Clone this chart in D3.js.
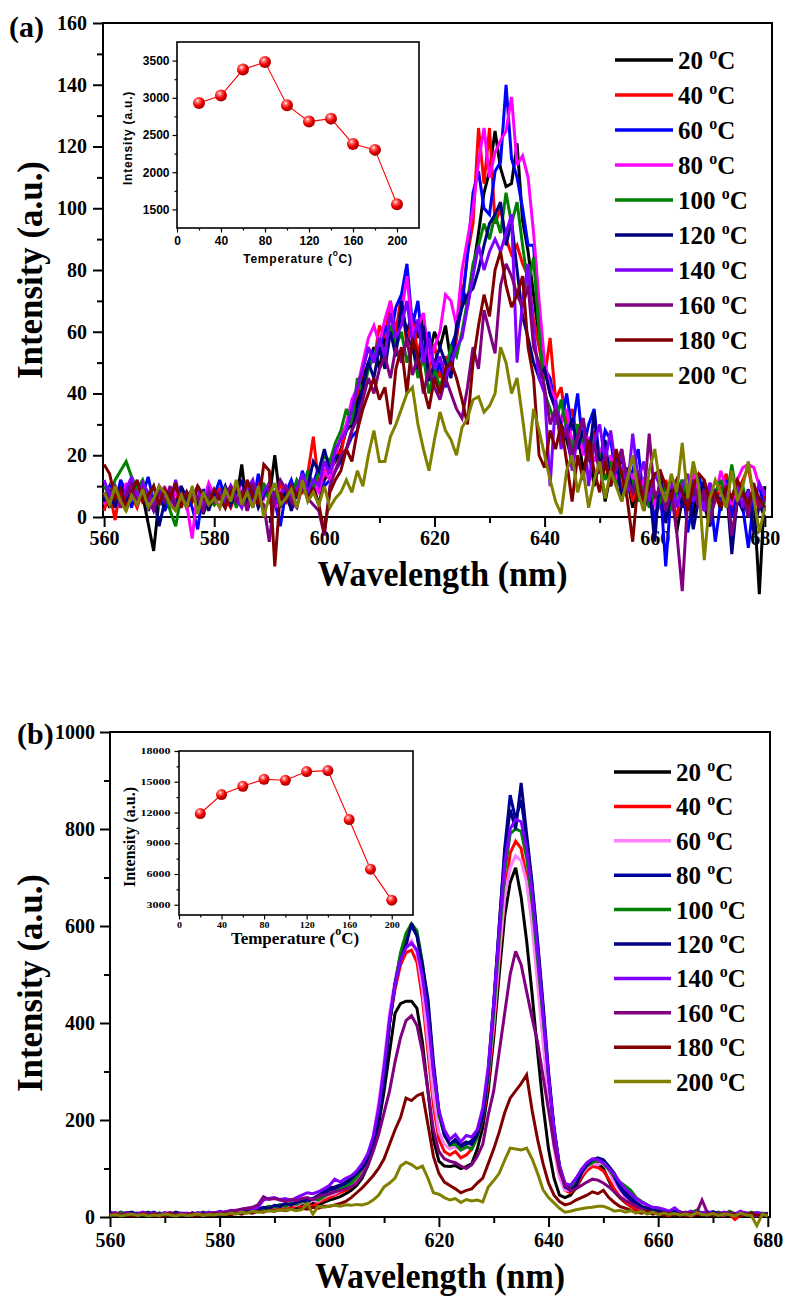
<!DOCTYPE html>
<html><head><meta charset="utf-8">
<script src="https://cdn.jsdelivr.net/npm/d3@7"></script>
<style>body{margin:0;background:#fff}</style>
</head><body><svg id="c" width="787" height="1300"></svg>
<script>
// ---------------- DATA ----------------
const wavelengths = [560,561,562,563,564,565,566,567,568,569,570,571,572,573,574,575,576,577,578,579,580,
581,582,583,584,585,586,587,588,589,590,591,592,593,594,595,596,597,598,599,600,
601,602,603,604,605,606,607,608,609,610,611,612,613,614,615,616,617,618,619,620,
621,622,623,624,625,626,627,628,629,630,631,632,633,634,635,636,637,638,639,640,
641,642,643,644,645,646,647,648,649,650,651,652,653,654,655,656,657,658,659,660,
661,662,663,664,665,666,667,668,669,670,671,672,673,674,675,676,677,678,679,680];

const temps = ["20","40","60","80","100","120","140","160","180","200"];
const colorsA = ["#000000","#ff0000","#0000ff","#ff00ff","#008000","#000080","#8000ff","#800080","#800000","#808000"];
const colorsB = ["#000000","#ff0000","#ff80ff","#00009c","#008000","#000080","#8000ff","#800080","#800000","#808000"];

// panel (a) spectra
const a20 = [8,3,10,6,2,9,5,7,-2,-11,6,4,9,2,7,3,5,8,1,6,4,
 7,3,9,5,17,2,8,4,10,6,20,5,9,3,8,12,6,10,4,12,
 15,18,22,28,30,38,45,50,55,48,58,62,55,68,60,66,58,64,52,60,
 55,62,50,58,75,68,80,92,105,112,125,113,107,108,121,96,86,72,58,48,
 40,35,30,25,18,28,15,22,10,18,5,14,20,8,12,3,15,6,10,-2,
 8,2,12,-5,6,10,0,14,4,-3,9,2,11,-6,5,8,0,6,-25,10];
const a40 = [2,8,-1,10,5,7,3,9,6,4,8,2,7,5,10,3,6,9,4,7,5,
 9,6,3,8,5,10,4,12,7,9,5,11,6,3,10,8,14,26,10,14,
 18,22,20,30,35,40,48,55,50,62,58,70,60,72,55,66,52,62,48,56,
 45,52,48,58,70,85,95,126,108,126,95,100,90,85,88,82,78,64,55,45,
 58,38,42,30,35,25,32,20,28,15,22,12,18,8,15,5,12,2,10,6,
 3,12,6,0,10,4,14,8,2,11,5,9,14,3,8,12,16,6,3,8];
const a60 = [6,10,4,12,8,3,11,7,13,5,9,2,6,10,4,8,3,-4,9,5,7,
 12,6,9,4,8,11,3,14,7,10,5,-3,8,12,6,15,9,11,16,10,
 12,15,18,22,26,28,40,50,54,53,62,58,68,72,82,62,70,52,60,45,
 50,42,55,60,68,85,105,112,100,98,112,115,140,116,110,100,88,88,60,48,
 45,35,30,40,28,40,22,30,35,18,28,25,12,20,8,15,22,5,12,-2,
 10,-16,8,4,12,-5,6,14,2,9,-8,5,12,0,8,3,-10,6,10,2];
const a80 = [4,9,7,3,11,6,8,12,2,7,5,10,3,8,6,4,-7,9,5,11,7,
 3,8,10,5,12,7,4,9,6,11,3,8,5,10,7,9,13,11,8,15,
 12,20,26,30,38,42,50,58,62,56,64,70,55,66,78,60,62,66,50,55,
 60,72,70,62,80,90,100,115,126,110,118,122,125,136,114,117,110,92,70,50,
 42,38,30,35,24,30,20,26,18,22,15,20,12,16,9,14,6,12,8,4,
 10,5,12,7,3,10,14,8,2,11,6,15,9,4,12,16,17,16,10,8];
const a100 = [10,7,12,15,18,13,9,12,6,10,4,8,2,-3,7,5,9,3,8,6,4,
 7,5,10,3,8,6,9,4,11,5,8,3,10,6,12,9,15,10,14,20,
 18,24,28,35,30,45,40,48,52,58,50,62,55,60,50,56,45,52,40,48,
 42,48,55,52,60,70,82,88,95,90,98,92,105,95,102,88,75,84,60,40,
 35,30,38,28,22,30,25,18,26,20,12,18,10,15,8,12,5,10,3,8,
 5,10,2,8,12,4,9,6,11,3,8,12,5,17,6,10,2,8,5,4];
const a120 = [5,8,3,10,6,12,4,9,2,7,-3,5,8,3,10,6,9,4,7,2,8,
 6,10,4,8,12,5,9,3,7,11,6,4,9,2,8,12,10,18,15,22,
 15,20,18,22,28,35,42,50,45,55,48,60,52,70,58,55,48,62,44,50,
 55,50,45,62,68,72,74,80,88,95,98,102,88,96,80,65,58,50,45,48,
 40,35,30,26,32,22,28,18,34,15,25,10,20,5,16,8,12,2,10,-8,
 15,-2,8,12,3,10,-4,6,12,-3,8,5,10,-12,6,2,9,-5,4,0];
const a140 = [12,7,10,4,9,13,6,11,8,3,10,7,5,12,4,8,6,10,3,9,5,
 8,4,10,6,3,9,12,5,8,11,4,7,10,6,9,14,8,12,10,18,
 14,22,25,28,35,42,48,55,50,58,52,66,58,62,70,56,64,50,58,48,
 52,45,50,55,58,68,78,88,80,86,90,86,92,98,50,70,82,60,45,40,
 10,38,22,30,15,26,32,10,24,30,18,28,15,22,8,27,12,18,5,14,
 10,6,12,3,10,14,5,9,2,11,7,4,10,6,12,3,8,5,11,7];
const a160 = [8,5,10,3,7,11,4,9,6,2,8,5,10,3,7,4,9,6,2,8,5,
 7,3,10,5,8,2,11,6,4,-8,7,12,9,5,3,10,6,4,2,-6,
 10,15,20,22,28,32,38,45,40,48,52,45,55,50,58,46,52,40,48,42,
 38,45,40,35,32,42,55,48,67,60,53,75,82,78,72,68,75,55,50,42,
 30,35,25,28,20,26,32,18,24,14,20,10,16,22,12,8,14,5,27,6,
 10,2,8,-5,-24,6,12,3,9,-2,7,4,10,-6,5,8,0,11,3,6];
const a180 = [17,14,6,9,3,8,12,5,7,10,4,9,6,11,3,8,5,10,7,4,9,
 6,3,8,10,5,12,7,4,17,15,-16,8,5,10,7,11,6,9,4,-5,
 8,12,15,22,18,28,35,40,45,38,42,30,48,55,40,58,52,42,35,45,
 40,48,50,45,38,30,50,62,72,65,80,86,75,68,72,78,55,45,20,16,
 28,22,30,18,5,20,12,25,15,8,18,10,22,14,6,-8,12,5,10,14,
 15,10,6,12,8,2,10,14,12,5,8,3,10,6,12,8,4,10,6,3];
const a200 = [8,4,10,5,2,7,4,9,3,6,10,8,4,2,7,3,10,1,8,4,6,
 3,9,5,12,4,8,3,10,0,7,11,4,6,9,3,12,5,8,4,10,
 3,6,8,12,8,15,10,20,28,18,18,26,30,35,40,42,30,22,15,25,
 34,28,25,20,29,32,38,39,34,36,40,55,50,40,45,32,18,35,28,20,
 12,5,1,15,20,8,15,3,12,18,6,15,10,5,12,20,8,2,15,22,
 10,5,14,8,24,6,18,10,-14,6,12,8,3,15,5,10,18,6,-5,3];

// panel (b) spectra
const b20 = [8,5,10,6,4,7,3,6,5,8,4,6,7,3,5,8,4,6,5,7,6,
 8,6,10,9,12,10,14,12,15,14,18,16,20,18,24,22,28,25,30,35,
 38,42,48,55,65,80,105,140,190,260,340,420,440,445,445,430,360,260,160,115,
 105,104,106,100,104,110,140,185,260,370,500,620,690,720,660,570,460,340,230,140,
 80,45,40,45,60,80,98,108,110,100,75,52,40,30,22,18,14,12,10,8,
 7,9,6,8,5,10,7,6,9,5,8,6,4,7,5,6,8,5,7,6];
const b40 = [5,8,4,6,9,3,7,5,8,2,6,9,4,7,5,3,8,6,4,9,5,
 7,10,8,12,9,14,11,16,13,18,15,20,17,24,20,26,22,30,35,40,
 45,50,55,62,75,90,115,155,220,300,400,470,520,545,550,525,450,340,230,160,
 135,128,135,122,128,140,165,200,275,390,530,660,750,775,760,700,610,500,380,260,
 150,85,55,50,62,82,96,104,102,95,78,58,42,30,22,15,12,8,10,6,
 5,3,8,4,7,2,6,9,4,7,5,3,6,-5,4,8,5,3,6,4];
const b60 = [6,4,8,5,7,3,9,6,4,7,5,8,3,6,9,5,7,4,8,6,10,
 8,12,10,14,11,16,13,18,22,20,24,22,26,24,30,28,35,32,40,45,
 48,55,60,68,80,95,125,165,235,320,420,490,540,560,570,545,470,360,250,175,
 150,140,145,138,142,150,170,210,290,400,540,660,720,745,735,690,600,480,360,240,
 140,80,55,55,68,88,102,110,108,112,95,72,55,40,30,22,16,12,10,8,
 6,9,5,8,4,7,10,6,8,5,7,4,9,6,5,8,4,7,5,6];
const b80 = [10,7,5,9,6,8,4,7,10,5,8,6,9,4,7,5,8,6,9,7,5,
 10,8,12,14,11,16,18,15,20,22,25,24,28,30,32,35,38,42,48,55,
 58,62,68,75,88,105,125,155,210,290,400,480,540,575,600,580,515,440,310,215,
 168,150,155,145,150,158,175,210,300,440,600,760,870,820,860,780,680,560,430,290,
 180,100,62,55,72,92,110,118,120,115,100,82,60,45,35,25,18,15,12,10,
 8,6,10,7,5,9,6,8,4,7,10,5,8,6,4,7,9,5,6,8];
const b100 = [7,5,9,6,8,4,7,10,5,8,6,4,9,7,5,8,6,10,7,5,8,
 10,12,9,14,12,16,14,18,22,20,25,22,28,26,32,30,38,35,42,48,
 52,58,62,70,82,98,120,150,215,300,400,480,545,585,605,590,525,430,300,210,
 170,148,150,138,145,140,165,205,290,420,570,710,790,800,795,740,650,530,410,290,
 180,105,65,60,75,92,105,112,118,110,98,85,72,64,55,40,32,25,18,15,
 12,10,8,11,6,9,14,8,10,6,9,5,12,7,8,5,10,6,8,5];
const b120 = [9,6,4,8,10,5,7,9,4,6,8,5,10,7,4,8,6,9,5,7,10,
 8,12,10,15,13,18,16,20,18,24,22,28,25,30,34,32,38,45,52,60,
 62,66,72,80,90,100,118,150,200,280,400,480,530,560,605,580,520,450,320,220,
 170,150,160,148,155,150,170,205,300,440,600,750,840,800,895,790,690,570,440,300,
 185,105,68,55,65,90,108,118,122,118,105,90,68,52,40,30,22,18,14,12,
 10,8,12,6,9,7,10,5,8,11,6,9,7,5,10,8,6,9,7,5];
const b140 = [6,9,5,8,4,7,10,6,8,5,9,6,4,8,7,5,9,6,10,8,12,
 10,14,12,16,18,15,20,35,38,40,36,38,34,40,45,50,48,52,58,65,
 78,72,80,85,95,110,130,165,225,310,410,480,530,555,565,550,495,410,300,220,
 180,160,170,155,168,165,180,225,310,440,590,730,800,820,815,760,670,550,420,290,
 180,105,70,65,80,98,112,120,118,112,100,88,72,58,48,38,30,25,20,19,
 16,12,19,10,8,12,6,9,11,7,5,10,8,6,12,7,5,9,6,4];
const b160 = [5,8,4,7,6,3,8,5,7,4,6,9,5,7,4,8,6,5,7,9,8,
 10,12,14,16,18,20,25,42,36,38,35,32,36,34,38,40,36,42,45,48,
 52,55,58,62,70,85,105,135,170,215,260,320,370,405,415,395,340,260,180,135,
 120,115,112,105,100,108,125,150,210,260,340,420,500,548,520,465,410,360,290,220,
 150,95,65,55,58,65,72,78,76,70,62,52,42,34,28,22,16,12,10,8,
 6,9,5,7,10,6,8,35,8,5,7,4,9,6,3,8,5,2,6,4];
const b180 = [4,6,3,5,2,4,6,3,5,4,2,6,3,5,4,6,3,5,4,6,5,
 6,4,8,6,10,8,12,10,14,12,15,13,16,14,18,16,20,18,22,22,
 25,28,32,40,50,60,72,85,100,120,150,180,205,245,240,250,255,190,125,90,
 72,65,58,50,55,58,70,80,110,140,175,215,245,260,275,293,220,160,110,70,
 45,32,25,28,35,40,45,52,48,55,40,30,22,18,14,10,8,12,6,8,
 5,7,4,6,3,8,5,4,6,3,5,7,4,6,2,5,8,4,3,5];
const b200 = [3,5,2,4,6,3,5,2,4,3,6,4,2,5,3,4,6,3,5,4,6,
 5,8,6,10,8,12,10,11,13,12,15,14,16,13,15,28,6,22,20,22,
 24,22,25,24,26,25,28,35,45,62,70,80,105,113,108,100,105,80,50,47,
 40,35,38,30,36,33,35,31,62,75,90,117,142,140,138,142,120,90,56,40,
 29,18,10,12,15,17,19,20,22,22,18,12,14,10,13,8,12,6,10,5,
 8,5,7,4,6,3,9,5,4,7,3,6,5,2,8,4,3,-18,6,2];

const seriesA = [a20,a40,a60,a80,a100,a120,a140,a160,a180,a200];
const seriesB = [b20,b40,b60,b80,b100,b120,b140,b160,b180,b200];

// insets
const insetTemps = [20,40,60,80,100,120,140,160,180,200];
const insetA = [2930,3030,3380,3480,2900,2680,2720,2380,2300,1570];
const insetB = [11900,13750,14560,15240,15140,15990,16090,11310,6470,3450];

// ticks
const xTicks = [560,580,600,620,640,660,680];
const xMinor = [570,590,610,630,650,670];
const yTicksA = [0,20,40,60,80,100,120,140,160];
const yMinorA = [10,30,50,70,90,110,130,150];
const yTicksB = [0,200,400,600,800,1000];
const yMinorB = [100,300,500,700,900];
const insetXTicks = [0,40,80,120,160,200];
const insetXMinor = [20,60,100,140,180];
const insetYTicksA = [1500,2000,2500,3000,3500];
const insetYMinorA = [1750,2250,2750,3250];
const insetYTicksB = [3000,6000,9000,12000,15000,18000];
const insetYMinorB = [4500,7500,10500,13500,16500];

// ---------------- DRAW ----------------
const SERIF = "'Liberation Serif','Times New Roman',serif";
const SANS = "'Liberation Sans',Arial,sans-serif";
const svg = d3.select("#c");

const defs = svg.append("defs");
const grad = defs.append("radialGradient").attr("id","ball").attr("cx","38%").attr("cy","32%").attr("r","68%");
grad.append("stop").attr("offset","0%").attr("stop-color","#ffffff");
grad.append("stop").attr("offset","22%").attr("stop-color","#ff7070");
grad.append("stop").attr("offset","60%").attr("stop-color","#f00000");
grad.append("stop").attr("offset","100%").attr("stop-color","#a00000");

function styleAxis(g, font, size, weight, sw) {
  g.select(".domain").remove();
  g.selectAll(".tick line").attr("stroke","#000").attr("stroke-width",sw);
  g.selectAll(".tick text").attr("font-family",font).attr("font-size",size)
    .attr("font-weight",weight).attr("fill","#000");
}

function degText(sel, pre, size, supSize, raise, post) {
  sel.append("tspan").text(pre);
  sel.append("tspan").attr("font-size",supSize).attr("dy",-raise).text("o");
  sel.append("tspan").attr("dy",raise).text("C" + (post||""));
}

function mainPanel(o) {
  const x = d3.scaleLinear().domain(o.xDomain).range([o.left,o.right]);
  const y = d3.scaleLinear().domain(o.yDomain).range([o.bottom,o.top]);
  const g = svg.append("g");

  const gxm = g.append("g").attr("transform",`translate(0,${o.bottom})`)
    .call(d3.axisBottom(x).tickValues(xMinor).tickSize(6).tickFormat(""));
  styleAxis(gxm, SERIF, 20, "bold", 2);
  const gx = g.append("g").attr("transform",`translate(0,${o.bottom})`)
    .call(d3.axisBottom(x).tickValues(xTicks).tickSize(10).tickFormat(d3.format("d")));
  styleAxis(gx, SERIF, 20, "bold", 2);
  gx.selectAll(".tick text").attr("y", o.xLabelOff).attr("dy", null);

  const gym = g.append("g").attr("transform",`translate(${o.left},0)`)
    .call(d3.axisLeft(y).tickValues(o.yMinor).tickSize(6).tickFormat(""));
  styleAxis(gym, SERIF, 20, "bold", 2);
  const gy = g.append("g").attr("transform",`translate(${o.left},0)`)
    .call(d3.axisLeft(y).tickValues(o.yTicks).tickSize(10).tickPadding(o.yPad).tickFormat(d3.format("d")));
  styleAxis(gy, SERIF, 20, "bold", 2);

  g.append("rect").attr("x",o.left).attr("y",o.top)
    .attr("width",o.right-o.left).attr("height",o.bottom-o.top)
    .attr("fill","none").attr("stroke","#000").attr("stroke-width",2);

  // titles
  g.append("text").attr("x",(o.left+o.right)/2 + o.xTitleShift).attr("y",o.xTitleY)
    .attr("text-anchor","middle").attr("font-family",SERIF).attr("font-weight","bold")
    .attr("font-size",36).attr("textLength",250).attr("lengthAdjust","spacingAndGlyphs")
    .text("Wavelength (nm)");
  g.append("text").attr("transform",`translate(${o.yTitleX},${o.yTitleY}) rotate(-90)`)
    .attr("text-anchor","middle").attr("font-family",SERIF).attr("font-weight","bold")
    .attr("font-size",36).attr("textLength",218).attr("lengthAdjust","spacingAndGlyphs")
    .text("Intensity (a.u.)");
  g.append("text").attr("x",o.tagX).attr("y",o.tagY).attr("font-family",SERIF)
    .attr("font-weight","bold").attr("font-size",30).text(o.tag);

  // spectra
  const line = d3.line().x((d,i)=>x(wavelengths[i])).y(d=>y(d));
  o.series.forEach((s,k)=>{
    g.append("path").datum(s).attr("d",line).attr("fill","none")
      .attr("stroke",o.colors[k]).attr("stroke-width",3).attr("stroke-miterlimit",3);
  });

  // legend
  const lg = g.append("g");
  temps.forEach((t,k)=>{
    const yy = o.legY0 + k*o.legDy;
    lg.append("line").attr("x1",o.legX1).attr("x2",o.legX2).attr("y1",yy).attr("y2",yy)
      .attr("stroke",o.colors[k]).attr("stroke-width",3.5);
    const tx = lg.append("text").attr("x",o.legTx).attr("y",yy+9).attr("font-family",SERIF)
      .attr("font-weight","bold").attr("font-size",25);
    degText(tx, t+" ", 25, 16, 10);
  });
}

function inset(o) {
  const x = d3.scaleLinear().domain([0,220]).range([o.left,o.right]);
  const y = d3.scaleLinear().domain(o.yDomain).range([o.bottom,o.top]);
  const g = svg.append("g");
  g.append("rect").attr("x",o.left).attr("y",o.top).attr("width",o.right-o.left)
    .attr("height",o.bottom-o.top).attr("fill","#fff");

  const gxm = g.append("g").attr("transform",`translate(0,${o.bottom})`)
    .call(d3.axisBottom(x).tickValues(insetXMinor).tickSize(2.5).tickFormat(""));
  styleAxis(gxm, o.font, o.fs, "bold", 1.2);
  const gx = g.append("g").attr("transform",`translate(0,${o.bottom})`)
    .call(d3.axisBottom(x).tickValues(insetXTicks).tickSize(4.5).tickFormat(d3.format("d")));
  styleAxis(gx, o.font, o.fs, "bold", 1.2);
  gx.selectAll(".tick text").attr("y",o.xLabOff).attr("dy",null);
  if (o.stretchX) gx.selectAll(".tick text").attr("textLength",d=>String(d).length*o.stretchX).attr("lengthAdjust","spacingAndGlyphs");

  const gym = g.append("g").attr("transform",`translate(${o.left},0)`)
    .call(d3.axisLeft(y).tickValues(o.yMinor).tickSize(2.5).tickFormat(""));
  styleAxis(gym, o.font, o.fs, "bold", 1.2);
  const gy = g.append("g").attr("transform",`translate(${o.left},0)`)
    .call(d3.axisLeft(y).tickValues(o.yTicks).tickSize(4.5).tickPadding(o.yPad).tickFormat(d3.format("d")));
  styleAxis(gy, o.font, o.fs, "bold", 1.2);
  if (o.stretchY) gy.selectAll(".tick text").attr("textLength",d=>String(d).length*o.stretchY).attr("lengthAdjust","spacingAndGlyphs");

  g.append("rect").attr("x",o.left).attr("y",o.top).attr("width",o.right-o.left)
    .attr("height",o.bottom-o.top).attr("fill","none").attr("stroke","#000").attr("stroke-width",1.6);

  const line = d3.line().x((d,i)=>x(insetTemps[i])).y(d=>y(d));
  g.append("path").datum(o.values).attr("d",line).attr("fill","none")
    .attr("stroke","#ff0000").attr("stroke-width",1.1);
  g.selectAll("circle.pt").data(o.values).join("circle").attr("class","pt")
    .attr("cx",(d,i)=>x(insetTemps[i])).attr("cy",d=>y(d)).attr("r",o.r)
    .attr("fill","url(#ball)");

  const tx = g.append("text").attr("x",o.xtX).attr("y",o.xtY).attr("text-anchor","middle")
    .attr("font-family",o.font).attr("font-weight","bold").attr("font-size",o.tfs)
    .attr("letter-spacing",o.ls);
  degText(tx, "Temperature (", o.tfs, o.tfs*0.7, o.tfs*0.55, ")");
  g.append("text").attr("transform",`translate(${o.ytX},${o.ytY}) rotate(-90)`)
    .attr("text-anchor","middle").attr("font-family",o.font).attr("font-weight","bold")
    .attr("font-size",o.yfs).attr("letter-spacing",o.ls).text("Intensity (a.u.)");
}

mainPanel({
  xDomain:[559.8,681.3], yDomain:[0,160], left:103, right:772, top:23, bottom:517,
  yTicks:yTicksA, yMinor:yMinorA, yPad:6, xLabelOff:28,
  xTitleY:586, xTitleShift:5, yTitleX:42, yTitleY:270,
  tag:"(a)", tagX:9, tagY:37,
  series:seriesA, colors:colorsA,
  legX1:615, legX2:673, legTx:678, legY0:60, legDy:35
});
inset({
  left:177, right:419, top:42, bottom:228, yDomain:[1250,3750],
  yTicks:insetYTicksA, yMinor:insetYMinorA, values:insetA,
  font:SANS, fs:12, yPad:3, xLabOff:17, r:6,
  xtX:298, xtY:263, tfs:12, ytX:132, ytY:138, yfs:12, ls:0.8
});

mainPanel({
  xDomain:[560,680.4], yDomain:[0,1000], left:110, right:770, top:732, bottom:1217,
  yTicks:yTicksB, yMinor:yMinorB, yPad:5, xLabelOff:30,
  xTitleY:1288, xTitleShift:0, yTitleX:42, yTitleY:983,
  tag:"(b)", tagX:17, tagY:744,
  series:seriesB, colors:colorsB,
  legX1:614, legX2:671, legTx:676, legY0:772, legDy:34.4
});
inset({
  left:179, right:413, top:751, bottom:915, yDomain:[2000,18000],
  yTicks:insetYTicksB, yMinor:insetYMinorB, values:insetB,
  font:SERIF, fs:8, yPad:4, xLabOff:13, r:5.5, stretchY:6, stretchX:5,
  xtX:295, xtY:944, tfs:17, ytX:135, ytY:837, yfs:16, ls:0
});
</script></body></html>
